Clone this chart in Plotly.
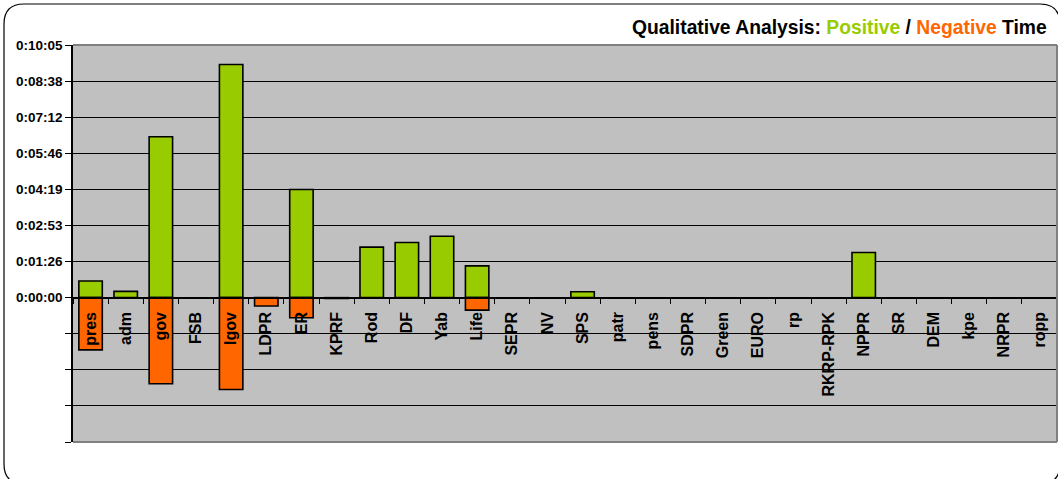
import plotly.graph_objects as go

categories = ["pres", "adm", "gov", "FSB", "lgov", "LDPR", "ER", "KPRF", "Rod", "DF",
              "Yab", "Life", "SEPR", "NV", "SPS", "patr", "pens", "SDPR", "Green", "EURO",
              "rp", "RKRP-RPK", "NPPR", "SR", "DEM", "kpe", "NRPR", "ropp"]
# seconds
positive_sec = [40, 15, 385, 0, 558, 0, 259, 0, 121, 132,
                147, 76, 0, 0, 14, 0, 0, 0, 0, 0,
                0, 0, 108, 0, 0, 0, 0, 0]
negative_sec = [125, 0, 206, 0, 220, 20, 48, 2, 0, 0,
                0, 30, 0, 0, 0, 0, 0, 0, 0, 0,
                0, 0, 0, 0, 0, 0, 0, 0]
ytick_labels = ["", "", "", "", "0:00:00", "0:01:26", "0:02:53", "0:04:19",
                "0:05:46", "0:07:12", "0:08:38", "0:10:05"]
step = 86.4  # 0.001 day
ytick_vals = [(i - 4) * step for i in range(len(ytick_labels))]

W, H = 1058, 479
L, R, T, B = 73, 1, 45, 37
pw, ph = W - L - R, H - T - B


def px(x):
    return (x - L) / pw


def py(y):
    return (H - B - y) / ph


GREEN = "#99CC00"
ORANGE = "#FF6600"
FONT = "Liberation Sans"

pos_y = [v if v else None for v in positive_sec]
neg_y = [-v if v else None for v in negative_sec]

fig = go.Figure()
fig.add_trace(go.Bar(x=categories, y=pos_y, marker=dict(color=GREEN, line=dict(color="black", width=1.6)),
                     name="Positive"))
fig.add_trace(go.Bar(x=categories, y=neg_y,
                     marker=dict(color=ORANGE, line=dict(color="black", width=1.6)), name="Negative"))

# rounded frame
x0, y0, x1, y1, r = 4, 4, 1060, 484, 20
path = (f"M {px(x0+r)},{py(y0)} L {px(x1-r)},{py(y0)} Q {px(x1)},{py(y0)} {px(x1)},{py(y0+r)} "
        f"L {px(x1)},{py(y1-r)} Q {px(x1)},{py(y1)} {px(x1-r)},{py(y1)} "
        f"L {px(x0+r)},{py(y1)} Q {px(x0)},{py(y1)} {px(x0)},{py(y1-r)} "
        f"L {px(x0)},{py(y0+r)} Q {px(x0)},{py(y0)} {px(x0+r)},{py(y0)} Z")
shapes = [
    dict(type="path", xref="paper", yref="paper", path=path, line=dict(color="black", width=1.2), layer="below"),
    dict(type="line", xref="paper", yref="paper", x0=0, x1=1, y0=1, y1=1, line=dict(color="#808080", width=2)),
    dict(type="line", xref="paper", yref="paper", x0=1, x1=1, y0=0, y1=1, line=dict(color="#808080", width=2)),
    dict(type="line", xref="paper", yref="paper", x0=0, x1=1, y0=0, y1=0, line=dict(color="#808080", width=2)),
]

title_text = ("Qualitative Analysis: <span style='color:%s'>Positive</span> / "
              "<span style='color:%s'>Negative</span> Time") % (GREEN, ORANGE)

zero_frac = (0 - ytick_vals[0]) / (ytick_vals[-1] - ytick_vals[0])

fig.update_layout(
    width=W, height=H,
    margin=dict(l=L, r=R, t=T, b=B, autoexpand=False),
    paper_bgcolor="white",
    plot_bgcolor="#C0C0C0",
    barmode="relative",
    bargap=0.333,
    showlegend=False,
    shapes=shapes,
    font=dict(family=FONT, color="black"),
    annotations=[dict(text=title_text, xref="paper", yref="paper", x=px(1049), y=py(28),
                      xanchor="right", yanchor="middle", showarrow=False,
                      font=dict(family=FONT, size=19.3, color="black", weight="bold"))],
    xaxis=dict(type="category", categoryorder="array", categoryarray=categories,
               anchor="free", position=zero_frac, showline=True, linecolor="black", linewidth=1,
               ticks="outside", tickson="boundaries", ticklen=5, tickcolor="black", tickwidth=1,
               tickangle=-90, showgrid=False, zeroline=False, ticklabelstandoff=7,
               tickfont=dict(family=FONT, size=16, color="black", weight="bold"),
               range=[-0.5, len(categories) - 0.5]),
    yaxis=dict(range=[ytick_vals[0], ytick_vals[-1]], tickmode="array", tickvals=ytick_vals,
               ticktext=ytick_labels, showgrid=True, gridcolor="black", gridwidth=1,
               zeroline=False, showline=True, linecolor="black", linewidth=1.5,
               ticks="outside", ticklen=6, tickcolor="black",
               tickfont=dict(family=FONT, size=13.5, color="black", weight="bold")),
)

fig.write_html("out.html", config={"displayModeBar": False},
               post_script="document.body.style.margin='0';")
